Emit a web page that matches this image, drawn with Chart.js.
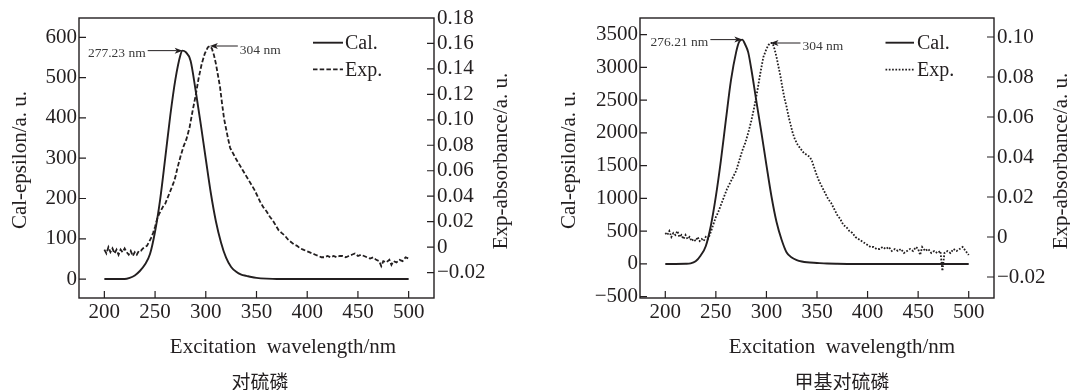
<!DOCTYPE html>
<html>
<head>
<meta charset="utf-8">
<script src="https://cdn.jsdelivr.net/npm/chart.js@4.4.1/dist/chart.umd.min.js"></script>
<style>
  body { margin: 0; background: #fff; }
  #wrap { position: relative; width: 1070px; height: 390px; }
  canvas { position: absolute; top: 0; }
</style>
</head>
<body>
<div id="wrap">
  <canvas id="c1" width="540" height="390" style="left:0"></canvas>
  <canvas id="c2" width="530" height="390" style="left:540px"></canvas>
</div>
<script>
// ---------- data ----------
const xTicks = [200, 250, 300, 350, 400, 450, 500];

// 对硫磷 : calculated spectrum (left axis)
const calWl1  = [200, 205, 210, 215, 220, 225, 230, 235, 240, 245, 250, 255, 260, 265, 270, 275, 277,
                 280, 285, 290, 295, 300, 305, 310, 315, 320, 325, 330, 335, 340, 345, 350, 360, 370, 380, 400, 450, 500];
const calVal1 = [0, 0, 0, 0, 0, 3, 9, 20, 36, 62, 118, 197, 300, 406, 495, 556, 567,
                 564, 542, 468, 385, 298, 213, 143, 91, 53, 30, 18, 11, 8, 5, 3, 1, 0, 0, 0, 0, 0];
// 对硫磷 : experimental absorbance (right axis)
const expWl1 = [
  200, 202, 204, 206, 208, 210, 212, 214, 216, 218, 220, 222, 224, 226, 228, 230, 232, 234, 236, 238, 240, 242, 244,
  246, 248, 250, 252, 254, 256, 258, 260, 262,
  265, 268, 270, 272, 275, 278, 281, 284, 287, 290, 293, 296, 299, 302, 304, 306, 308, 310, 312, 314, 316, 318, 320, 322, 324, 326, 328, 330,
  333, 336, 339, 342, 345, 348, 351, 354, 357, 360,
  363, 366, 369, 372, 375, 378, 381, 384, 387, 390,
  393, 396, 399, 402, 405, 408, 411, 414, 417, 420,
  423, 426, 429, 432, 435, 438, 441, 444, 447, 450,
  453, 456, 459, 462, 465, 468, 471,
  473, 475, 478, 481, 483, 485, 488, 491, 494, 497, 500];
const expVal1 = [
  -0.002, -0.005, 0.000, -0.004, -0.001, -0.005, -0.002, -0.006, -0.002, -0.004, -0.001, -0.004, -0.006, -0.003, -0.007, -0.004, -0.006, -0.003, -0.003, -0.001, 0.000, 0.001, 0.004,
  0.007, 0.011, 0.016, 0.022, 0.026, 0.029, 0.032, 0.034, 0.038,
  0.044, 0.050, 0.055, 0.062, 0.071, 0.079, 0.085, 0.094, 0.107, 0.119, 0.133, 0.144, 0.152, 0.157, 0.158, 0.156, 0.151, 0.144, 0.135, 0.126, 0.113, 0.101, 0.093, 0.085, 0.078, 0.075, 0.072, 0.069,
  0.065, 0.061, 0.057, 0.053, 0.049, 0.045, 0.040, 0.035, 0.031, 0.028,
  0.024, 0.021, 0.017, 0.013, 0.011, 0.009, 0.006, 0.004, 0.002, 0.001,
  -0.001, -0.002, -0.003, -0.004, -0.005, -0.006, -0.007, -0.008, -0.008, -0.007,
  -0.008, -0.007, -0.008, -0.007, -0.007, -0.008, -0.007, -0.006, -0.005, -0.007,
  -0.006, -0.007, -0.008, -0.009, -0.008, -0.010, -0.011,
  -0.015, -0.011, -0.012, -0.010, -0.014, -0.011, -0.012, -0.010, -0.011, -0.008, -0.009];
const yTicks1  = [0, 100, 200, 300, 400, 500, 600];
const yLabels1 = ['0', '100', '200', '300', '400', '500', '600'];
const rTicks1  = [-0.02, 0, 0.02, 0.04, 0.06, 0.08, 0.10, 0.12, 0.14, 0.16, 0.18];
const rLabels1 = ['\u22120.02', '0', '0.02', '0.04', '0.06', '0.08', '0.10', '0.12', '0.14', '0.16', '0.18'];

// 甲基对硫磷 : calculated spectrum
const calWl2  = [200, 210, 220, 225, 230, 235, 240, 245, 250, 255, 260, 265, 270, 273, 276,
                 279, 282, 285, 290, 295, 300, 305, 310, 315, 320, 325, 330, 335, 340, 350, 360, 370, 380, 400, 450, 500];
const calVal2 = [0, 0, 2, 8, 40, 130, 270, 580, 1030, 1580, 2210, 2810, 3230, 3390, 3425,
                 3350, 3230, 2980, 2490, 2010, 1510, 1030, 640, 370, 175, 100, 60, 38, 25, 15, 6, 2, 0, 0, 0, 0];
// 甲基对硫磷 : experimental absorbance
const expWl2 = [
  200, 202, 204, 206, 208, 210, 212, 214, 216, 218, 220, 222, 224, 226, 228, 230, 232, 234, 236, 238, 240, 242, 244,
  246, 248, 250, 252, 255, 258, 261, 264, 267, 270, 273, 276, 279, 282, 285, 288, 291, 294, 297, 300,
  302, 304, 306, 308, 310, 312, 314, 316, 318, 320, 322, 324, 326, 328,
  331, 334, 337, 340, 343, 345, 347, 349, 352, 355,
  358, 361, 364, 367, 370, 373, 376, 379, 382, 385,
  388, 391, 394, 397, 400, 403, 406, 409, 412, 415,
  418, 421, 424, 427, 430, 433, 436, 439, 442, 445,
  448, 450, 452, 454, 457, 460, 463, 466, 469, 472,
  474, 476, 479, 482, 485, 488, 491, 494, 497, 500];
const expVal2 = [
  0.002, 0.001, 0.003, 0.000, 0.002, 0.001, 0.003, 0.000, 0.001, -0.001, 0.001, -0.001, 0.000, -0.002, -0.001, -0.002, 0.000, -0.002, -0.001, -0.002, 0.000, -0.001, 0.001,
  0.004, 0.007, 0.010, 0.012, 0.016, 0.020, 0.024, 0.027, 0.030, 0.033, 0.038, 0.043, 0.047, 0.052, 0.058, 0.065, 0.073, 0.082, 0.090, 0.094,
  0.096, 0.097, 0.097, 0.094, 0.090, 0.085, 0.080, 0.074, 0.069, 0.065, 0.060, 0.056, 0.052, 0.049,
  0.046, 0.044, 0.042, 0.041, 0.040, 0.038, 0.035, 0.032, 0.028, 0.025,
  0.022, 0.019, 0.017, 0.014, 0.011, 0.009, 0.006, 0.005, 0.003, 0.002,
  0.000, -0.001, -0.002, -0.003, -0.004, -0.005, -0.005, -0.006, -0.006, -0.005,
  -0.006, -0.005, -0.007, -0.006, -0.007, -0.006, -0.008, -0.007, -0.006, -0.007,
  -0.005, -0.006, -0.009, -0.005, -0.007, -0.006, -0.008, -0.007, -0.008, -0.007,
  -0.017, -0.008, -0.007, -0.008, -0.006, -0.007, -0.006, -0.005, -0.007, -0.009];
const yTicks2  = [-500, 0, 500, 1000, 1500, 2000, 2500, 3000, 3500];
const yLabels2 = ['\u2212500', '0', '500', '1000', '1500', '2000', '2500', '3000', '3500'];
const rTicks2  = [-0.02, 0, 0.02, 0.04, 0.06, 0.08, 0.10];
const rLabels2 = ['\u22120.02', '0', '0.02', '0.04', '0.06', '0.08', '0.10'];

// ---------- drawing ----------
const INK = '#231f20';
const SERIF = '"Liberation Serif", "Times New Roman", serif';
const CJK = '"Noto Sans CJK SC", sans-serif';

function pts(xs, ys) { return xs.map((x, i) => ({ x: x, y: ys[i] })); }

function vText(ctx, text, x, y) {
  ctx.save();
  ctx.translate(x, y);
  ctx.rotate(-Math.PI / 2);
  ctx.fillText(text, 0, 0);
  ctx.restore();
}

// frame, inward ticks, legend, peak arrows and titles
const decor = {
  id: 'decor',
  afterDraw(chart, args, o) {
    const { ctx, chartArea: a, scales } = chart;
    ctx.save();
    ctx.strokeStyle = INK;
    ctx.fillStyle = INK;
    ctx.lineWidth = 1.4;
    ctx.strokeRect(a.left, a.top, a.right - a.left, a.bottom - a.top);

    const L = 7;
    ctx.lineWidth = 1.2;
    ctx.beginPath();
    scales.x.ticks.forEach(t => {
      const p = scales.x.getPixelForValue(t.value);
      ctx.moveTo(p, a.bottom); ctx.lineTo(p, a.bottom - L);
    });
    scales.y.ticks.forEach(t => {
      const p = scales.y.getPixelForValue(t.value);
      if (p < a.top + 1 || p > a.bottom - 1) return;
      ctx.moveTo(a.left, p); ctx.lineTo(a.left + L, p);
    });
    scales.y1.ticks.forEach(t => {
      const p = scales.y1.getPixelForValue(t.value);
      if (p < a.top + 1 || p > a.bottom - 1) return;
      ctx.moveTo(a.right, p); ctx.lineTo(a.right - L, p);
    });
    ctx.stroke();

    // legend
    ctx.font = '20px ' + SERIF;
    ctx.textAlign = 'left';
    ctx.textBaseline = 'middle';
    chart.data.datasets.forEach((ds, i) => {
      const y = a.top + o.legend.rows[i];
      ctx.save();
      ctx.lineWidth = ds.borderWidth;
      ctx.setLineDash(ds.borderDash || []);
      ctx.beginPath();
      ctx.moveTo(a.right - o.legend.x0, y);
      ctx.lineTo(a.right - o.legend.x1, y);
      ctx.stroke();
      ctx.restore();
      ctx.fillText(ds.label, a.right - o.legend.tx, y + 1);
    });

    // peak arrows
    ctx.font = '13.5px ' + SERIF;
    o.notes.forEach(n => {
      const ds = chart.data.datasets[n.ds];
      const peak = Math.max(...ds.data.map(p => p.y));
      const tx = scales.x.getPixelForValue(n.wl);
      const ty = scales[ds.yAxisID].getPixelForValue(peak);
      const tail = tx + n.dir * n.len;
      ctx.lineWidth = 1;
      ctx.beginPath();
      ctx.moveTo(tail, ty); ctx.lineTo(tx + n.dir * 6, ty);
      ctx.stroke();
      ctx.beginPath();
      ctx.moveTo(tx, ty);
      ctx.lineTo(tx + n.dir * 8, ty - 3);
      ctx.lineTo(tx + n.dir * 6, ty);
      ctx.lineTo(tx + n.dir * 8, ty + 3);
      ctx.closePath();
      ctx.fill();
      ctx.fillStyle = '#3a3a3a';
      ctx.textAlign = n.dir < 0 ? 'right' : 'left';
      ctx.fillText(n.text, tail + n.dir * 2, ty + n.dy);
      ctx.fillStyle = INK;
    });

    // titles
    const cx = (a.left + a.right) / 2;
    const cy = (a.top + a.bottom) / 2;
    ctx.textAlign = 'center';
    ctx.textBaseline = 'middle';
    ctx.font = '21px ' + SERIF;
    ctx.fillText(o.xTitle, cx + o.xTitleDx, a.bottom + 49);
    vText(ctx, o.yTitle, a.left - o.yTitleDx, cy + 2);
    vText(ctx, o.rTitle, a.right + 67.5, cy + 3);
    ctx.font = '19px ' + CJK;
    ctx.fillText(o.caption, cx + o.captionDx, a.bottom + 84);
    ctx.restore();
  }
};

function makeChart(id, cfg) {
  const tickFont = { family: SERIF, size: 21 };
  const fixTicks = (vals) => (s) => { s.ticks = vals.map(v => ({ value: v })); };
  new Chart(document.getElementById(id), {
    type: 'line',
    data: {
      datasets: [
        { label: 'Cal.', data: pts(cfg.calWl, cfg.calVal), yAxisID: 'y',
          borderColor: INK, borderWidth: 1.9, pointRadius: 0,
          cubicInterpolationMode: 'monotone' },
        { label: 'Exp.', data: pts(cfg.expWl, cfg.expVal), yAxisID: 'y1',
          borderColor: INK, borderWidth: 1.8, pointRadius: 0, tension: 0,
          borderDash: cfg.expDash }
      ]
    },
    options: {
      responsive: false,
      animation: false,
      devicePixelRatio: 1,
      layout: { padding: { top: 18, left: 0, right: 0, bottom: 0 }, autoPadding: false },
      plugins: {
        legend: { display: false },
        tooltip: { enabled: false },
        decor: cfg.decor
      },
      scales: {
        x: {
          type: 'linear', min: 175, max: 525,
          afterBuildTicks: fixTicks(xTicks),
          grid: { display: false, drawTicks: false }, border: { display: false },
          ticks: { font: tickFont, color: INK, padding: 2, maxRotation: 0, autoSkip: false },
          afterFit: s => { s.height = 92; s.paddingLeft = 0; s.paddingRight = 0; }
        },
        y: {
          position: 'left', min: cfg.yMin, max: cfg.yMax,
          afterBuildTicks: fixTicks(cfg.yTicks),
          grid: { display: false, drawTicks: false }, border: { display: false },
          ticks: { font: tickFont, color: INK, padding: 2, autoSkip: false,
                   callback: (v, i) => cfg.yLabels[i] },
          afterFit: s => { s.width = cfg.leftW; s.paddingTop = 0; s.paddingBottom = 0; }
        },
        y1: {
          position: 'right', min: cfg.rMin, max: cfg.rMax,
          afterBuildTicks: fixTicks(cfg.rTicks),
          grid: { display: false, drawTicks: false }, border: { display: false },
          ticks: { font: tickFont, color: INK, padding: 3, autoSkip: false,
                   callback: (v, i) => cfg.rLabels[i] },
          afterFit: s => { s.width = cfg.rightW; s.paddingTop = 0; s.paddingBottom = 0; }
        }
      }
    },
    plugins: [decor]
  });
}

makeChart('c1', {
  calWl: calWl1, calVal: calVal1, expWl: expWl1, expVal: expVal1,
  expDash: [4.5, 2.2],
  yMin: -47, yMax: 648, yTicks: yTicks1, yLabels: yLabels1,
  rMin: -0.04, rMax: 0.18, rTicks: rTicks1, rLabels: rLabels1,
  leftW: 79, rightW: 106,
  decor: {
    legend: { x0: 121, x1: 91, tx: 89, rows: [24.7, 51.3] },
    notes: [
      { ds: 0, wl: 277.23, text: '277.23 nm', dir: -1, len: 35, dy: 2.5 },
      { ds: 1, wl: 304, text: '304 nm', dir: 1, len: 28, dy: 4 }
    ],
    xTitle: 'Excitation  wavelength/nm', xTitleDx: 26.5,
    yTitle: 'Cal-epsilon/a. u.', yTitleDx: 58.2,
    rTitle: 'Exp-absorbance/a. u.',
    caption: '对硫磷', captionDx: 3.5
  }
});

makeChart('c2', {
  calWl: calWl2, calVal: calVal2, expWl: expWl2, expVal: expVal2,
  expDash: [1.7, 1.6],
  yMin: -520, yMax: 3755, yTicks: yTicks2, yLabels: yLabels2,
  rMin: -0.0305, rMax: 0.1095, rTicks: rTicks2, rLabels: rLabels2,
  leftW: 100, rightW: 76,
  decor: {
    legend: { x0: 108.5, x1: 80, tx: 77, rows: [24.7, 51.7] },
    notes: [
      { ds: 0, wl: 276.21, text: '276.21 nm', dir: -1, len: 32, dy: 2.6 },
      { ds: 1, wl: 304, text: '304 nm', dir: 1, len: 30, dy: 3.3 }
    ],
    xTitle: 'Excitation  wavelength/nm', xTitleDx: 25,
    yTitle: 'Cal-epsilon/a. u.', yTitleDx: 71,
    rTitle: 'Exp-absorbance/a. u.',
    caption: '甲基对硫磷', captionDx: 25
  }
});
</script>
</body>
</html>
